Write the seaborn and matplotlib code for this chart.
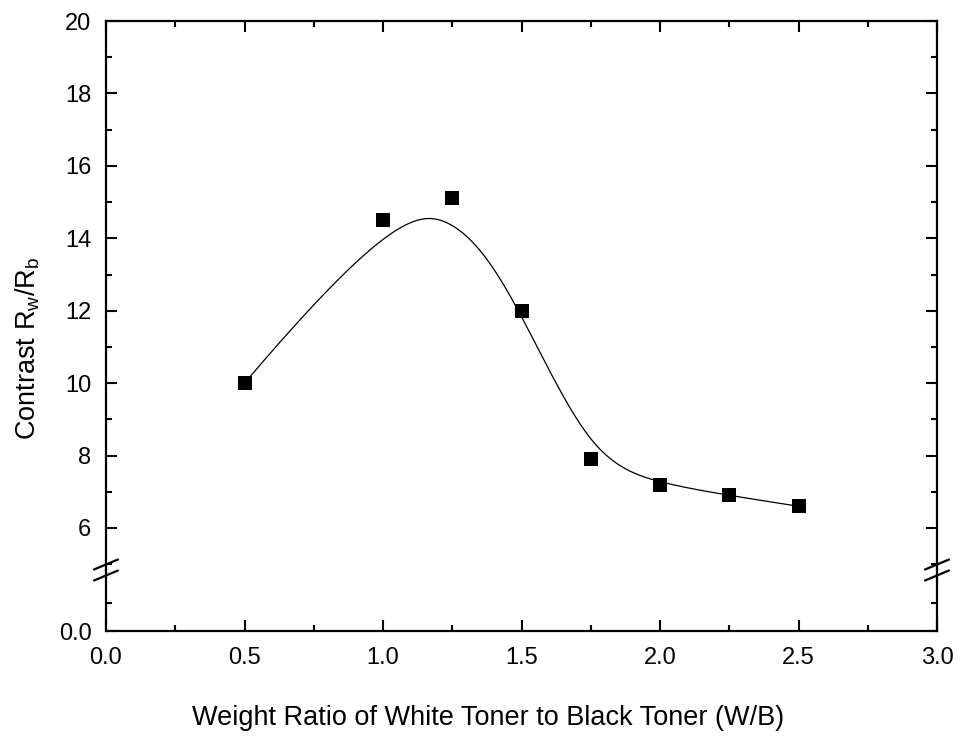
import numpy as np
import pandas as pd
import matplotlib
matplotlib.use("Agg")
import matplotlib.pyplot as plt
from matplotlib.lines import Line2D
import seaborn as sns

# ---- data ----
ratio = [0.5, 1.0, 1.25, 1.5, 1.75, 2.0, 2.25, 2.5]
contrast = [10.0, 14.5, 15.1, 12.0, 7.9, 7.2, 6.9, 6.6]
x_ticks = [0.0, 0.5, 1.0, 1.5, 2.0, 2.5, 3.0]
x_tick_labels = ["0.0", "0.5", "1.0", "1.5", "2.0", "2.5", "3.0"]
y_ticks_upper = [6, 8, 10, 12, 14, 16, 18, 20]
y_tick_labels_upper = ["6", "8", "10", "12", "14", "16", "18", "20"]
y_ticks_lower = [0.0]
y_tick_labels_lower = ["0.0"]


def bspline(xs, ys, n=400, k=3):
    """Clamped cubic B-spline using the data points as control points."""
    P = np.column_stack([xs, ys]).astype(float)
    m = len(P)
    inner = np.arange(1, m - k)
    knots = np.concatenate([np.zeros(k + 1), inner, np.full(k + 1, m - k)]).astype(float)
    ts = np.linspace(0, m - k, n)
    out = []
    for t in ts:
        if t >= knots[-1]:
            out.append(P[-1]); continue
        s = np.searchsorted(knots, t, side="right") - 1
        d = [P[j + s - k].copy() for j in range(k + 1)]
        for r in range(1, k + 1):
            for j in range(k, r - 1, -1):
                i = j + s - k
                a = (t - knots[i]) / (knots[i + k + 1 - r] - knots[i])
                d[j] = (1 - a) * d[j - 1] + a * d[j]
        out.append(d[k])
    out = np.array(out)
    return out[:, 0], out[:, 1]


sx, sy = bspline(ratio, contrast)
pts = pd.DataFrame({"ratio": ratio, "contrast": contrast})
curve = pd.DataFrame({"ratio": sx, "contrast": sy})

sns.set_theme(style="ticks")
plt.rcParams["font.family"] = ["Liberation Sans", "DejaVu Sans"]
plt.rcParams["mathtext.fontset"] = "custom"
plt.rcParams["mathtext.rm"] = "Liberation Sans"
plt.rcParams["mathtext.it"] = "Liberation Sans"
plt.rcParams["text.color"] = "black"
plt.rcParams["axes.labelcolor"] = "black"
plt.rcParams["xtick.color"] = "black"
plt.rcParams["ytick.color"] = "black"

W, H = 958, 740
fig = plt.figure(figsize=(W / 100, H / 100), dpi=100)

left_px, right_px, top_px, bot_px, brk_px = 106, 937, 21, 631, 570
lft = left_px / W
wid = (right_px - left_px) / W
ax_top = fig.add_axes([lft, 1 - brk_px / H, wid, (brk_px - top_px) / H])
ax_bot = fig.add_axes([lft, 1 - bot_px / H, wid, (bot_px - brk_px) / H])

# upper scale: 6 at y=528, 20 at top
ppu = (528 - top_px) / 14.0
ylo = 6 - (brk_px - 528) / ppu
ax_top.set_ylim(ylo, 20)
ax_bot.set_ylim(0, 0.5 * (bot_px - brk_px) / (bot_px - 603))

sns.lineplot(data=curve, x="ratio", y="contrast", ax=ax_top, color="black",
             linewidth=0.9, estimator=None, sort=False)
sns.scatterplot(data=pts, x="ratio", y="contrast", ax=ax_top, marker="s",
                s=100, color="black", edgecolor="black", linewidth=0, zorder=5)

for ax in (ax_top, ax_bot):
    ax.set_xlim(0, 3)
    ax.set_xlabel("")
    ax.set_ylabel("")
    for sp in ax.spines.values():
        sp.set_linewidth(1.6)
        sp.set_color("black")
    ax.tick_params(which="major", direction="in", length=8, width=1.5,
                   labelsize=17, colors="black")
    ax.tick_params(which="minor", direction="in", length=4.5, width=1.5, colors="black")
    ax.tick_params(axis="y", which="major", pad=10.5)
    ax.tick_params(axis="x", which="major", pad=11.5)

ax_top.spines["bottom"].set_visible(False)
ax_bot.spines["top"].set_visible(False)

ax_top.set_xticks(x_ticks)
ax_top.set_xticks([0.25, 0.75, 1.25, 1.75, 2.25, 2.75], minor=True)
ax_top.tick_params(axis="x", which="both", bottom=False, top=True,
                   labelbottom=False, labeltop=False)
ax_top.set_yticks(y_ticks_upper)
ax_top.set_yticklabels(y_tick_labels_upper)
ax_top.set_yticks([5, 7, 9, 11, 13, 15, 17, 19], minor=True)
ax_top.tick_params(axis="y", which="both", left=True, right=True)

ax_bot.set_xticks(x_ticks)
ax_bot.set_xticklabels(x_tick_labels)
ax_bot.set_xticks([0.25, 0.75, 1.25, 1.75, 2.25, 2.75], minor=True)
ax_bot.tick_params(axis="x", which="both", bottom=True, top=False)
ax_bot.set_yticks(y_ticks_lower)
ax_bot.set_yticklabels(y_tick_labels_lower)
ax_bot.set_yticks([0.5], minor=True)
ax_bot.tick_params(axis="y", which="both", left=True, right=True)

# break marks
def px(x, y):
    return x / W, 1 - y / H

for xc in (left_px, right_px):
    for yc in (564.5, 575.5):
        (x0, y0), (x1, y1) = px(xc - 12, yc + 5), px(xc + 12, yc - 5)
        fig.add_artist(Line2D([x0, x1], [y0, y1], color="black", lw=1.6))

fig.text(488 / W, 1 - 725 / H,
         "Weight Ratio of White Toner to Black Toner (W/B)",
         ha="center", va="baseline", fontsize=19.5)
fig.text(28 / W, 1 - 348 / H,
         r"Contrast R$_\mathregular{w}$/R$_\mathregular{b}$",
         ha="center", va="center", rotation=90, fontsize=19.5)

fig.savefig("out.png", dpi=100)
